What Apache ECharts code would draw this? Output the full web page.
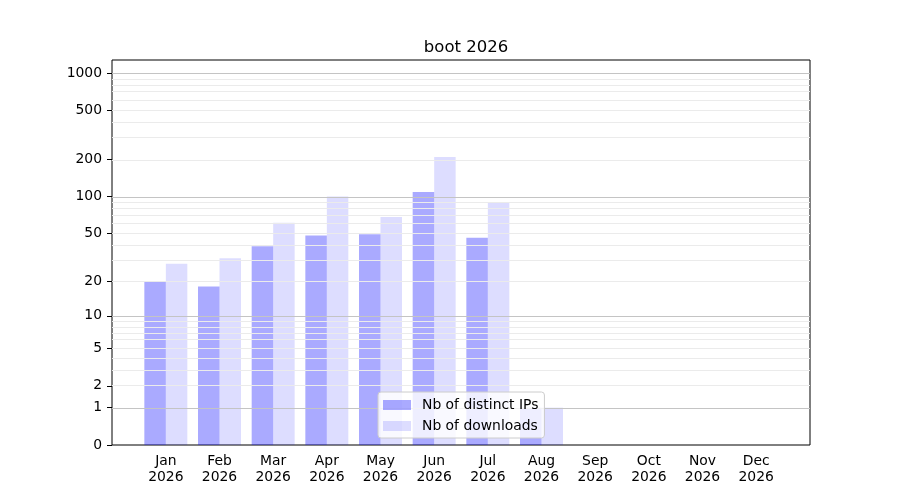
<!DOCTYPE html>
<html>
<head>
<meta charset="UTF-8">
<title>boot 2026</title>
<script src="https://cdn.jsdelivr.net/npm/echarts@6/dist/echarts.min.js"></script>
<style>
  html, body { margin: 0; padding: 0; background: #fff; }
  #chart { width: 900px; height: 500px; }
</style>
</head>
<body>
<div id="chart"></div>
<script>
// data
var months = ['Jan\n2026', 'Feb\n2026', 'Mar\n2026', 'Apr\n2026', 'May\n2026', 'Jun\n2026',
              'Jul\n2026', 'Aug\n2026', 'Sep\n2026', 'Oct\n2026', 'Nov\n2026', 'Dec\n2026'];
var distinctIps = [20, 18, 39, 48, 49, 109, 46, 1, 0, 0, 0, 0];
var downloads = [28, 31, 61, 100, 68, 209, 90, 1, 0, 0, 0, 0];
var tickValues = [0, 1, 2, 5, 10, 20, 50, 100, 200, 500, 1000];
var majorGrid = [1, 10, 100, 1000];
var minorGrid = [2, 3, 4, 5, 6, 7, 8, 9, 20, 30, 40, 50, 60, 70, 80, 90,
                 200, 300, 400, 500, 600, 700, 800, 900];

// y scale is log10(v + 1)
function tr(v) { return Math.log10(v + 1); }
var yMax = 3.105;
var font = 'DejaVu Sans';

var chart = echarts.init(document.getElementById('chart'));
chart.setOption({
    animation: false,
    title: {
        text: 'boot 2026',
        left: 461,
        top: 34,
        textAlign: 'center',
        textStyle: { fontFamily: font, fontSize: 16.5, fontWeight: 'normal', color: '#000' }
    },
    legend: {
        orient: 'vertical',
        left: 378,
        top: 392,
        z: 10,
        padding: [6, 6, 5, 5],
        itemGap: 7,
        itemWidth: 28,
        itemHeight: 10,
        icon: 'rect',
        backgroundColor: 'rgba(255,255,255,0.8)',
        borderColor: '#cccccc',
        borderWidth: 1,
        borderRadius: 3,
        textStyle: { fontFamily: font, fontSize: 13.9, color: '#000', lineHeight: 14, padding: [0, 0, 0, 6] },
        data: ['Nb of distinct IPs', 'Nb of downloads']
    },
    grid: [
        { left: 112, top: 60, width: 698, height: 385, show: true, borderColor: '#000', borderWidth: 1 },
        { left: 139, top: 60, width: 644, height: 385 }
    ],
    xAxis: [
        { gridIndex: 0, type: 'value', min: 0, max: 1, show: false },
        {
            gridIndex: 1, type: 'category', data: months,
            axisLine: { show: false },
            axisTick: { alignWithLabel: true, length: 5, lineStyle: { color: '#000' } },
            axisLabel: { fontFamily: font, fontSize: 13.9, color: '#000', lineHeight: 16, margin: 8 }
        }
    ],
    yAxis: [
        {
            gridIndex: 0, type: 'value', min: 0, max: yMax,
            axisLine: { show: false },
            splitLine: { show: false },
            axisTick: { show: true, length: 5, customValues: tickValues.map(tr), lineStyle: { color: '#000' } },
            axisLabel: {
                customValues: tickValues.map(tr),
                margin: 10,
                padding: [3, 0, 0, 0],
                fontFamily: font, fontSize: 13.9, color: '#000',
                formatter: function (val) { return String(Math.round(Math.pow(10, val) - 1)); }
            }
        },
        { gridIndex: 1, type: 'value', min: 0, max: yMax, show: false }
    ],
    series: [
        {
            name: 'Nb of distinct IPs', type: 'bar', xAxisIndex: 1, yAxisIndex: 1, z: 2,
            barWidth: 21.5, barGap: '0%',
            itemStyle: { color: 'rgba(0,0,255,0.333)' },
            data: distinctIps.map(tr)
        },
        {
            name: 'Nb of downloads', type: 'bar', xAxisIndex: 1, yAxisIndex: 1, z: 2,
            barWidth: 21.5, barGap: '0%',
            itemStyle: { color: 'rgba(0,0,255,0.133)' },
            data: downloads.map(tr)
        },
        {
            type: 'line', xAxisIndex: 0, yAxisIndex: 0, data: [], silent: true, z: 3,
            markLine: {
                silent: true, symbol: 'none', label: { show: false },
                lineStyle: { color: '#ebebeb', width: 1, type: 'solid' },
                data: minorGrid.map(function (v) { return { yAxis: tr(v) }; })
            }
        },
        {
            type: 'line', xAxisIndex: 0, yAxisIndex: 0, data: [], silent: true, z: 3,
            markLine: {
                silent: true, symbol: 'none', label: { show: false },
                lineStyle: { color: '#c4c4c4', width: 1, type: 'solid' },
                data: majorGrid.map(function (v) { return { yAxis: tr(v) }; })
            }
        }
    ]
});
</script>
</body>
</html>
